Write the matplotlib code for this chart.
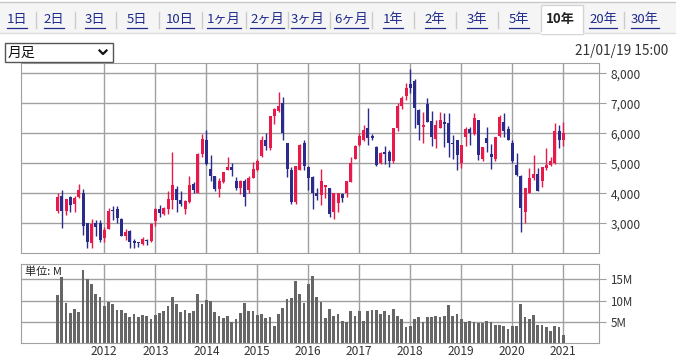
import numpy as np
import matplotlib
matplotlib.use('Agg')
import matplotlib.pyplot as plt
from matplotlib.patches import Rectangle
from matplotlib.lines import Line2D

plt.rcParams['font.family'] = ['Noto Sans CJK JP', 'DejaVu Sans']

# monthly candles, Feb 2011 .. Jan 2021 (index 0 = 2011-02)
opens = [3420, 3910, 3420, 3870, 3640, 3860, 4000, 3000, 2330, 3000,
         3000, 2520, 2810, 3440, 3480, 3140, 2560, 2740, 2410, 2370,
         2310, 2440, 2410, 3080, 3480, 3310, 3480, 3780, 4140, 3780,
         3480, 3700, 4300, 4000, 5300, 5780, 4810, 4560, 4140, 4370,
         4780, 4890, 4420, 4170, 4410, 4110, 4520, 4780, 5240, 5780,
         5520, 6580, 6740, 7000, 5670, 4780, 3720, 4780, 5670, 4890,
         4530, 4000, 3940, 4200, 4190, 3390, 3670, 3970, 4000, 4390,
         5130, 5610, 5780, 6170, 5910, 5530, 5000, 5360, 5370, 5060,
         6170, 6910, 7240, 7630, 7740, 6780, 6220, 6980, 6410, 5800,
         6190, 6370, 6330, 5670, 5780, 5020, 5860, 6130, 5980, 6440,
         5130, 5830, 5310, 5130, 5910, 6390, 6130, 5670, 4940, 4580,
         3360, 4020, 4520, 4630, 4420, 4830, 4940, 5000, 6080, 5760]
highs = [4020, 4110, 3820, 3910, 3910, 4310, 4140, 3020, 3130, 3110,
         3110, 2890, 3500, 3580, 3560, 3160, 2800, 2760, 2470, 2390,
         2530, 2480, 3000, 3500, 3610, 3540, 4060, 5360, 4240, 4060,
         3780, 4560, 4390, 5330, 5980, 6110, 5260, 4580, 4500, 4700,
         5200, 5000, 4530, 4440, 4480, 4560, 5030, 5140, 5920, 6000,
         6580, 6830, 7370, 7220, 5670, 4890, 4910, 5630, 5780, 4910,
         4560, 4170, 4810, 4280, 4190, 4000, 4000, 4020, 4410, 5200,
         5610, 6000, 6280, 6830, 5980, 5580, 5360, 5560, 5440, 6170,
         7000, 7240, 7690, 8140, 7800, 6800, 6700, 7170, 6740, 6440,
         6700, 6670, 6670, 5940, 5780, 5610, 6220, 6220, 6690, 6440,
         5530, 6220, 5630, 5870, 6610, 6670, 6240, 5780, 5330, 4610,
         4170, 4830, 5280, 4830, 4890, 5500, 5220, 6330, 6280, 6360]
lows = [3356, 2830, 3280, 3390, 3360, 3830, 2610, 2190, 2190, 2580,
        2390, 2360, 2800, 3110, 3020, 2560, 2440, 2170, 2190, 2200,
        2270, 2260, 2390, 2920, 3220, 3280, 3300, 3480, 3360, 3560,
        3300, 3670, 4000, 4000, 5220, 4950, 4410, 4060, 3860, 4330,
        4760, 4560, 4110, 3970, 3560, 4020, 4520, 4740, 5200, 5440,
        5440, 6300, 6720, 5780, 4530, 3640, 3640, 4780, 4780, 4110,
        3480, 3780, 3610, 3830, 3220, 3130, 3360, 3720, 3890, 4390,
        5130, 5560, 5740, 5610, 5780, 4910, 4980, 4980, 4870, 5000,
        6090, 6800, 7110, 7330, 6170, 5760, 5670, 6370, 5580, 5500,
        6170, 5530, 5220, 5130, 4780, 4830, 5560, 5610, 5940, 5110,
        5060, 5390, 4800, 5090, 5890, 5870, 5760, 5020, 4560, 2720,
        3000, 4000, 4440, 4060, 4200, 4780, 4920, 4980, 5500, 5560]
closes = [3860, 3420, 3800, 3610, 3830, 4110, 2920, 2390, 2980, 2870,
          2440, 2780, 3410, 3420, 3190, 2590, 2720, 2360, 2330, 2350,
          2470, 2400, 2980, 3480, 3330, 3520, 3810, 4280, 3780, 3630,
          3740, 4280, 4110, 5300, 5810, 4970, 4590, 4140, 4410, 4700,
          4870, 4780, 4190, 4410, 3890, 4520, 4810, 5080, 5780, 5560,
          6560, 6800, 6910, 6000, 4810, 3720, 4910, 5610, 4920, 4500,
          4020, 3920, 4410, 4280, 3310, 4000, 4000, 3830, 4410, 5000,
          5580, 5910, 6110, 5830, 5830, 4940, 5330, 5310, 5060, 6170,
          6910, 7170, 7500, 7500, 6830, 6260, 6260, 6370, 5860, 6280,
          6440, 6300, 5670, 5640, 5260, 5610, 6130, 6000, 6500, 5280,
          5530, 5690, 5200, 5870, 6530, 6060, 5780, 5090, 4610, 3500,
          4170, 4520, 4630, 4060, 4890, 4940, 5060, 6060, 5780, 6000]
volumes = [11.3, 15.5, 9.4, 7.1, 8.0, 7.3, 17.2, 15.0, 13.9, 11.6,
           10.9, 8.75, 9.7, 9.2, 7.8, 7.8, 7.1, 6.2, 6.9, 6.2,
           6.6, 6.4, 5.7, 6.6, 7.1, 7.6, 8.75, 10.9, 9.2, 7.3,
           7.8, 7.1, 7.6, 11.6, 9.2, 10.1, 9.9, 7.3, 6.4, 5.9,
           6.4, 5.0, 5.7, 7.1, 9.4, 7.6, 7.6, 6.6, 6.9, 5.9,
           6.2, 4.1, 6.9, 8.3, 10.4, 10.6, 14.6, 11.6, 9.4, 13.9,
           15.8, 10.9, 9.7, 5.9, 8.0, 6.4, 6.9, 5.2, 5.0, 7.6,
           6.4, 7.6, 5.2, 7.6, 7.8, 7.8, 6.9, 7.6, 6.6, 8.0,
           6.4, 5.7, 3.8, 4.1, 5.7, 6.2, 5.0, 6.2, 6.2, 6.4,
           6.2, 6.4, 9.0, 6.4, 6.9, 5.7, 5.0, 5.2, 5.0, 4.8,
           4.8, 5.2, 5.0, 4.3, 4.3, 4.1, 3.4, 4.1, 4.1, 9.2,
           6.2, 5.7, 6.6, 4.3, 4.3, 3.8, 2.9, 4.1, 3.8, 2.0]

years = [2012, 2013, 2014, 2015, 2016, 2017, 2018, 2019, 2020, 2021]
year_pos = [11 + 12 * i for i in range(len(years))]  # January of each year
price_ticks = [3000, 4000, 5000, 6000, 7000, 8000]
vol_ticks = [5, 10, 15]
tabs = ['1日', '2日', '3日', '5日', '10日', '1ヶ月', '2ヶ月', '3ヶ月', '6ヶ月',
        '1年', '2年', '3年', '5年', '10年', '20年', '30年']
tab_x = [17, 54, 95, 137, 180, 224, 267, 308, 351, 393, 435, 477, 519, 560, 603, 645]
selected = '10年'

W, H = 676, 357
RED = '#e8194b'
BLUE = '#2b2b8c'
GRID = '#a0a0a0'


def fx(x):
    return x / W


def fy(y):
    return 1 - y / H


fig = plt.figure(figsize=(W / 100, H / 100), dpi=100)

# tab bar
fig.add_artist(Rectangle((0, fy(33)), 1, 31 / H, transform=fig.transFigure,
                         facecolor='#f5f5f5', edgecolor='none'))
fig.add_artist(Line2D([0, 1], [fy(1.5), fy(1.5)], transform=fig.transFigure, color='#c8c8c8', lw=1))
fig.add_artist(Line2D([0, 1], [fy(33), fy(33)], transform=fig.transFigure, color='#dddddd', lw=1))
sel_i = tabs.index(selected)
fig.add_artist(Rectangle((fx(541), fy(33.5)), 42 / W, 28.5 / H, transform=fig.transFigure,
                         facecolor='white', edgecolor='#d4d4d4', lw=1))
fig.add_artist(Line2D([fx(541.7), fx(582.3)], [fy(33), fy(33)], transform=fig.transFigure, color='white', lw=1.5))

for i in range(len(tab_x) - 1):
    sx = (tab_x[i] + tab_x[i + 1]) / 2
    if i in (sel_i - 1, sel_i):
        continue
    fig.add_artist(Line2D([fx(sx), fx(sx)], [fy(12), fy(28)], transform=fig.transFigure,
                          color='#cccccc', lw=1))

tab_texts = []
for lab, x in zip(tabs, tab_x):
    if lab == selected:
        fig.text(fx(x), fy(19.5), lab, ha='center', va='center', fontsize=9.5,
                 fontweight='bold', color='#222222')
    else:
        t = fig.text(fx(x), fy(19.5), lab, ha='center', va='center', fontsize=9.5, color='#1e2a8c')
        tab_texts.append(t)

# dropdown + timestamp
fig.add_artist(Rectangle((fx(4.5), fy(61.5)), 108.5 / W, 18 / H, transform=fig.transFigure,
                         facecolor='white', edgecolor='#555555', lw=1))
fig.text(fx(8), fy(52.5), '月足', ha='left', va='center', fontsize=10, color='#111111')
fig.add_artist(Line2D([fx(99.5), fx(103), fx(106.5)], [fy(50.5), fy(54), fy(50.5)],
                      transform=fig.transFigure, color='#111111', lw=1.6))
fig.text(fx(668), fy(51), '21/01/19 15:00', ha='right', va='center', fontsize=9.8, color='#333333')

x = np.arange(len(opens))
o = np.array(opens)
c = np.array(closes)
colors = [RED if cc >= oo else BLUE for oo, cc in zip(o, c)]
xlim = (-8.68, 127.46)

# price panel
ax = fig.add_axes([fx(20.7), fy(253.3), (599.3 - 20.7) / W, 190 / H])
ax.set_axisbelow(True)
ax.vlines(x, lows, highs, colors=colors, lw=1)
body_lo = np.minimum(o, c)
body_h = np.maximum(np.abs(c - o), 25)
ax.bar(x, body_h, bottom=body_lo, width=0.72, color=colors, linewidth=0)
ax.set_xlim(*xlim)
ax.set_ylim(2000, 8333)
ax.set_xticks(year_pos)
ax.set_xticklabels([])
ax.set_yticks(price_ticks)
ax.set_yticklabels([f'{v:,}' for v in price_ticks])
ax.yaxis.tick_right()
ax.tick_params(axis='y', length=5, color=GRID, labelsize=8.6, labelcolor='#333333', pad=3)
ax.tick_params(axis='x', length=0)
ax.grid(True, color=GRID, lw=1)
for s in ax.spines.values():
    s.set_color(GRID)

# volume panel
ax2 = fig.add_axes([fx(20.7), fy(343.3), (599.3 - 20.7) / W, 79 / H])
ax2.set_axisbelow(True)
ax2.bar(x, volumes, width=0.65, color='#666666', linewidth=0)
ax2.set_xlim(*xlim)
ax2.set_ylim(0, 18.5)
ax2.set_xticks(year_pos)
ax2.set_xticklabels([str(y) for y in years])
ax2.set_yticks(vol_ticks)
ax2.set_yticklabels([f'{v}M' for v in vol_ticks])
ax2.yaxis.tick_right()
ax2.tick_params(axis='y', length=5, color=GRID, labelsize=8.4, labelcolor='#333333', pad=3)
ax2.tick_params(axis='x', length=0, labelsize=8.6, labelcolor='#333333', pad=1)
ax2.grid(True, color=GRID, lw=1)
for s in ax2.spines.values():
    s.set_color(GRID)
fig.text(fx(25), fy(272), '単位: M', ha='left', va='center', fontsize=8, color='#222222')

# underline the tab links
fig.canvas.draw()
r = fig.canvas.get_renderer()
for t in tab_texts:
    bb = t.get_window_extent(r)
    fig.add_artist(Line2D([bb.x0 / W, bb.x1 / W], [fy(27.5), fy(27.5)], transform=fig.transFigure,
                          color='#1e2a8c', lw=0.9))

fig.savefig('out.png', dpi=100)
